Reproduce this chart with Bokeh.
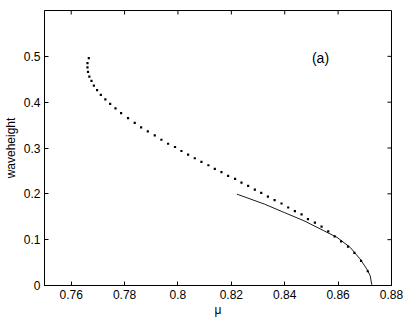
import math
from bokeh.plotting import figure
from bokeh.models import FixedTicker, NumeralTickFormatter, Range1d, Label
from bokeh.embed import file_html
from bokeh.resources import INLINE

# dotted branch (mu, waveheight)
mu_dots = [0.7666, 0.7661, 0.7661, 0.7663, 0.7668, 0.7676, 0.7685, 0.7697, 0.7711, 0.7728,
           0.7746, 0.7766, 0.7787, 0.7813, 0.7838, 0.7862, 0.7887, 0.7913, 0.7938, 0.7963,
           0.7989, 0.8013, 0.8038, 0.8063, 0.8088, 0.8114, 0.8138, 0.8163, 0.8188, 0.8214,
           0.8238, 0.8263, 0.8288, 0.8312, 0.8337, 0.8362, 0.8388, 0.8413, 0.8438, 0.8463,
           0.8487, 0.8513, 0.8538, 0.8563, 0.8587, 0.8611, 0.8637, 0.8661, 0.8686, 0.8711]
h_dots = [0.4963, 0.4854, 0.4761, 0.4659, 0.4559, 0.4463, 0.4363, 0.4261, 0.4159, 0.4059,
          0.3963, 0.3863, 0.3761, 0.3652, 0.3550, 0.3450, 0.3363, 0.3276, 0.3180, 0.3093,
          0.3022, 0.2935, 0.2854, 0.2776, 0.2696, 0.2624, 0.2543, 0.2472, 0.2391, 0.2326,
          0.2246, 0.2174, 0.2093, 0.2022, 0.1941, 0.1863, 0.1789, 0.1702, 0.1624, 0.1550,
          0.1450, 0.1370, 0.1283, 0.1180, 0.1072, 0.0963, 0.0848, 0.0711, 0.0537, 0.0311]

# solid branch
mu_line = [0.8221, 0.8324, 0.8398, 0.8472, 0.8546, 0.8596, 0.8645, 0.8682, 0.8707, 0.8720, 0.8726, 0.8727]
h_line = [0.1993, 0.1776, 0.1593, 0.1413, 0.1196, 0.1050, 0.0833, 0.0580, 0.0363, 0.0217, 0.0022, 0.0]

x_ticks = [0.76, 0.78, 0.80, 0.82, 0.84, 0.86, 0.88]
y_ticks = [0.0, 0.1, 0.2, 0.3, 0.4, 0.5]
x_lim = (0.75, 0.88)
y_lim = (0.0, 0.6)

FONT = "Liberation Sans"

p = figure(width=407, height=319, output_backend="svg", toolbar_location=None,
           x_range=Range1d(*x_lim), y_range=Range1d(*y_lim),
           x_axis_label="μ", y_axis_label="waveheight",
           min_border_left=41, min_border_top=10, min_border_right=16, min_border_bottom=34)
p.grid.visible = False
p.outline_line_color = "black"
p.outline_line_width = 1
p.background_fill_color = "white"
p.border_fill_color = "white"

p.xaxis[0].ticker = FixedTicker(ticks=x_ticks)
p.yaxis[0].ticker = FixedTicker(ticks=y_ticks)

for ax in [p.xaxis[0], p.yaxis[0]]:
    ax.formatter = NumeralTickFormatter(format="0.[00]")
    ax.major_tick_in = 4
    ax.major_tick_out = 0
    ax.minor_tick_in = 0
    ax.minor_tick_out = 0
    ax.axis_line_color = "black"
    ax.major_tick_line_color = "black"
    ax.major_label_text_font = FONT
    ax.major_label_text_font_size = "12px"
    ax.major_label_text_color = "black"
    ax.axis_label_text_font = FONT
    ax.axis_label_text_font_size = "12px"
    ax.axis_label_text_font_style = "normal"
    ax.axis_label_text_color = "black"

p.xaxis[0].major_label_standoff = 4
p.xaxis[0].axis_label_standoff = 1
p.yaxis[0].major_label_standoff = 4
p.yaxis[0].axis_label_standoff = 3

# inward ticks on the top and right edges of the box
p.ray(x=x_ticks, y=[y_lim[1]] * len(x_ticks), length=4, length_units="screen",
      angle=-math.pi / 2, line_color="black", line_width=1)
p.ray(x=[x_lim[1]] * len(y_ticks), y=y_ticks, length=4, length_units="screen",
      angle=math.pi, line_color="black", line_width=1)

p.scatter(mu_dots, h_dots, marker="square", size=2.2, fill_color="black", line_color=None)
p.line(mu_line, h_line, line_color="black", line_width=0.9)

p.add_layout(Label(x=0.8534, y=0.496, text="(a)", text_font=FONT, text_font_size="14px",
                   text_align="center", text_baseline="middle", text_color="black"))

open("out.html", "w").write(file_html(p, INLINE))
